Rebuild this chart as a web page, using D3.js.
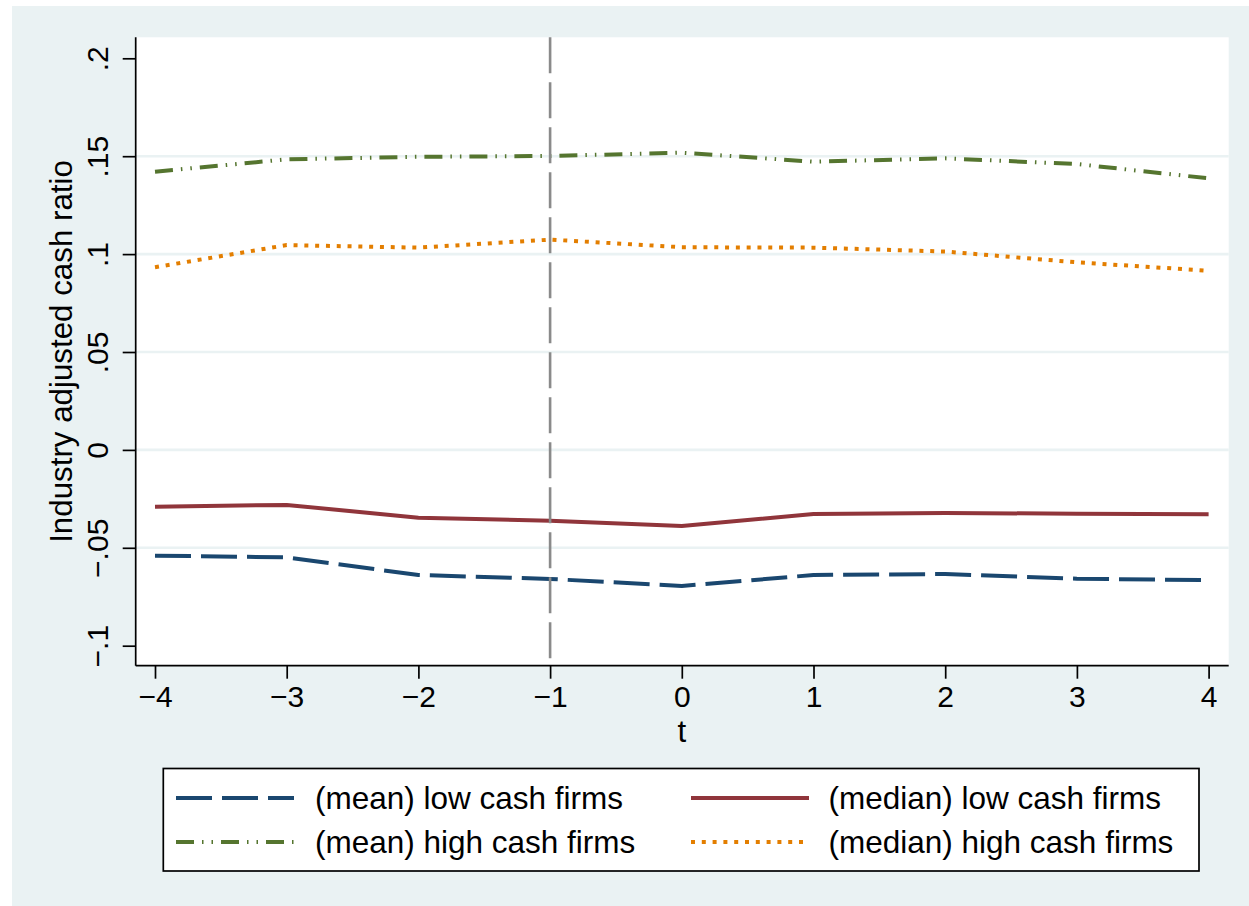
<!DOCTYPE html>
<html>
<head>
<meta charset="utf-8">
<script src="https://cdn.jsdelivr.net/npm/d3@7"></script>
<style>
  body { margin: 0; background: #fff; }
  svg { display: block; font-family: "Liberation Sans", Arial, Helvetica, sans-serif; }
</style>
</head>
<body>
<svg id="chart"></svg>
<script>
// data
const periods = [-4, -3, -2, -1, 0, 1, 2, 3, 4]
const meanLow = [-0.0540, -0.0549, -0.0639, -0.0659, -0.0695, -0.0639, -0.0634, -0.0658, -0.0665]
const medianLow = [-0.0290, -0.0281, -0.0346, -0.0362, -0.0389, -0.0327, -0.0322, -0.0326, -0.0329]
const meanHigh = [0.1421, 0.1484, 0.1497, 0.1501, 0.1518, 0.1472, 0.1489, 0.1460, 0.1387]
const medianHigh = [0.0933, 0.1046, 0.1033, 0.1074, 0.1035, 0.1033, 0.1013, 0.0958, 0.0915]
const yTicks = [-0.1, -0.05, 0, 0.05, 0.1, 0.15, 0.2]
const yTickLabels = ["\u2212.1", "\u2212.05", "0", ".05", ".1", ".15", ".2"]
const xTickLabels = ["\u22124", "\u22123", "\u22122", "\u22121", "0", "1", "2", "3", "4"]
const eventPeriod = -1
const seriesNames = ["(mean) low cash firms", "(median) low cash firms", "(mean) high cash firms", "(median) high cash firms"]

const width = 1249
const height = 906
const plot = {left: 135.7, right: 1228.7, top: 37.3, bottom: 665.7}

// styles (Stata s2color look)
const styles = [
  {color: "#1a476f", dash: "36,10"},
  {color: "#90353b", dash: null},
  {color: "#55752f", dash: "18,8,1.5,8,1.5,8"},
  {color: "#e37e00", dash: "4,6.8"}
]
const series = [meanLow, medianLow, meanHigh, medianHigh].map((vals, i) => ({
  name: seriesNames[i],
  values: vals.map((v, j) => ({t: periods[j], v: v})),
  ...styles[i]
}))

const svg = d3.select("#chart")
  .attr("width", width)
  .attr("height", height)
  .attr("viewBox", [0, 0, width, height])

// outer background
svg.append("rect")
  .attr("x", 12).attr("y", 6)
  .attr("width", width - 12).attr("height", height - 6)
  .attr("fill", "#eaf2f3")

svg.append("rect")
  .attr("x", plot.left).attr("y", plot.top)
  .attr("width", plot.right - plot.left).attr("height", plot.bottom - plot.top)
  .attr("fill", "#fff")

const x = d3.scaleLinear().domain([-4, 4]).range([155, 1208.6])
const y = d3.scaleLinear().domain([-0.1, 0.2]).range([645.7, 58.3])

// grid lines
svg.append("g")
  .selectAll("line")
  .data(yTicks.slice(1, -1))
  .join("line")
  .attr("x1", plot.left).attr("x2", plot.right)
  .attr("y1", d => y(d)).attr("y2", d => y(d))
  .attr("stroke", "#eaf2f3")
  .attr("stroke-width", 2.6)

// series lines
const line = d3.line().x(d => x(d.t)).y(d => y(d.v))

svg.append("g")
  .selectAll("path")
  .data(series)
  .join("path")
  .attr("d", d => line(d.values))
  .attr("fill", "none")
  .attr("stroke", d => d.color)
  .attr("stroke-width", 4)
  .attr("stroke-dasharray", d => d.dash)
  .attr("stroke-linejoin", "round")

// event line at t = -1
svg.append("line")
  .attr("x1", x(eventPeriod)).attr("x2", x(eventPeriod))
  .attr("y1", plot.top).attr("y2", plot.bottom)
  .attr("stroke", "#8a8a8a")
  .attr("stroke-width", 2.6)
  .attr("stroke-dasharray", "36,9")

// axes
const yAxis = g => g
  .attr("transform", `translate(${plot.left},0)`)
  .call(d3.axisLeft(y).tickValues(yTicks).tickFormat((d, i) => yTickLabels[i]).tickSize(13).tickSizeOuter(0))
  .call(g => g.select(".domain").attr("d", `M0,${plot.top}V${plot.bottom}`))
  .call(g => g.selectAll(".tick text")
    .attr("x", 0).attr("y", -27.7).attr("dy", null)
    .attr("transform", "rotate(-90)")
    .attr("text-anchor", "middle"))

const xAxis = g => g
  .attr("transform", `translate(0,${plot.bottom})`)
  .call(d3.axisBottom(x).tickValues(periods).tickFormat((d, i) => xTickLabels[i]).tickSize(13).tickSizeOuter(0))
  .call(g => g.select(".domain").attr("d", `M${plot.left},0H${plot.right}`))
  .call(g => g.selectAll(".tick text").attr("y", 41.5).attr("dy", null))

svg.append("g").attr("class", "y-axis").call(yAxis)
svg.append("g").attr("class", "x-axis").call(xAxis)

svg.selectAll(".x-axis, .y-axis")
  .attr("font-family", null)
  .attr("font-size", 30)
  .call(g => g.selectAll(".domain, .tick line").attr("stroke", "#000").attr("stroke-width", 1.7))
  .call(g => g.selectAll(".tick text").attr("fill", "#000"))

// axis titles
svg.append("text")
  .attr("transform", `translate(72,${(plot.top + plot.bottom) / 2}) rotate(-90)`)
  .attr("text-anchor", "middle")
  .attr("font-size", 31.3)
  .text("Industry adjusted cash ratio")

svg.append("text")
  .attr("x", (x(-4) + x(4)) / 2)
  .attr("y", 742)
  .attr("text-anchor", "middle")
  .attr("font-size", 31.3)
  .text("t")

// legend
const legend = svg.append("g")
legend.append("rect")
  .attr("x", 163.3).attr("y", 768.5)
  .attr("width", 1199 - 163.3).attr("height", 871 - 768.5)
  .attr("fill", "#fff")
  .attr("stroke", "#000")
  .attr("stroke-width", 1.7)

const legendPos = [[176, 798], [691, 798], [176, 842], [691, 842]]
const item = legend.selectAll("g.item")
  .data(series)
  .join("g")
  .attr("class", "item")
  .attr("transform", (d, i) => `translate(${legendPos[i][0]},${legendPos[i][1]})`)

item.append("line")
  .attr("x1", 0).attr("x2", 118)
  .attr("stroke", d => d.color)
  .attr("stroke-width", 4)
  .attr("stroke-dasharray", d => d.dash)

item.append("text")
  .attr("x", (d, i) => i % 2 ? 137.5 : 139)
  .attr("y", 10.5)
  .attr("font-size", 31.5)
  .text(d => d.name)
</script>
</body>
</html>
